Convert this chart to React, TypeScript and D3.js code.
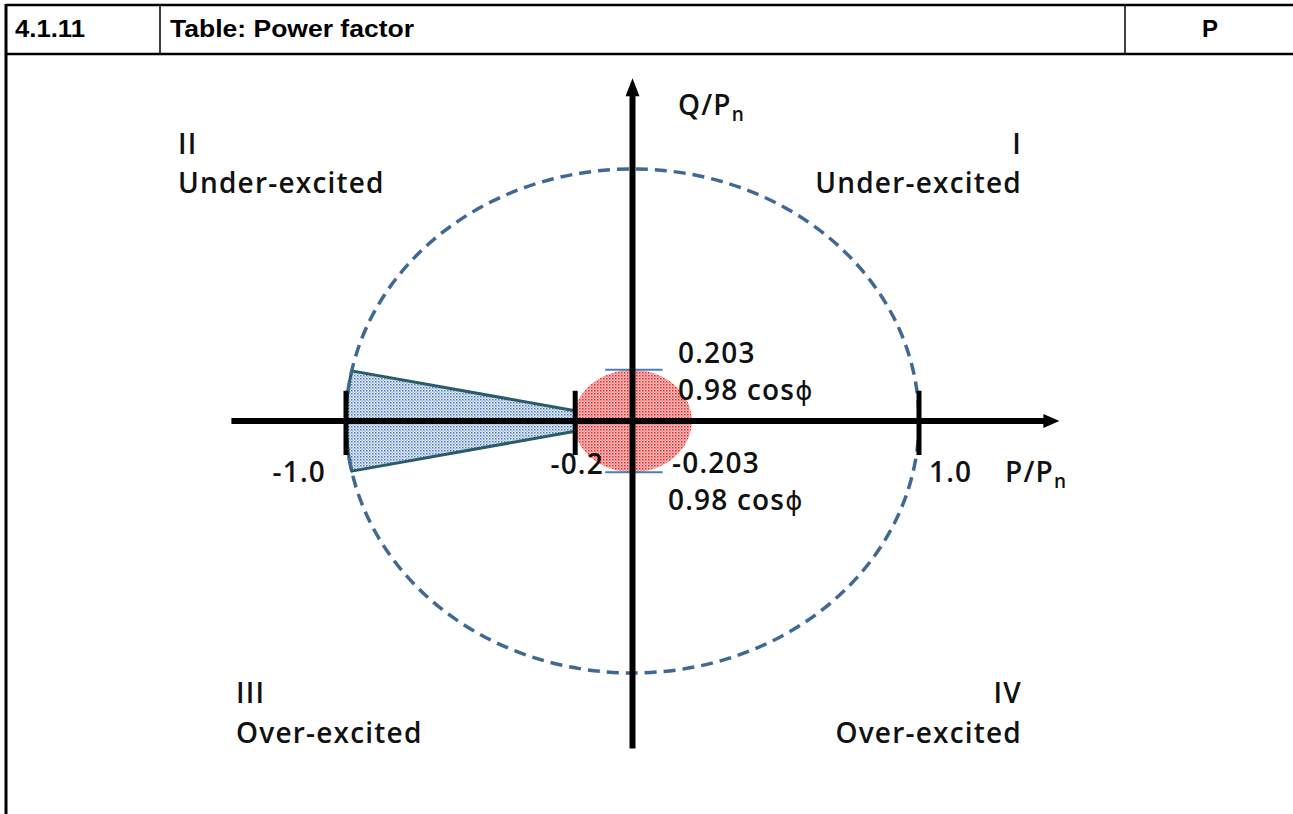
import React from "react";
import * as d3 from "d3";

// ---- data ----
const headerCells = ["4.1.11", "Table: Power factor", "P"];
const axisLabels = { x: "P/P", y: "Q/P", sub: "n" };
const xTickValues = [-1.0, -0.2, 1.0];
const xTickLabels = ["-1.0", "-0.2", "1.0"];
const qLimit = 0.203; // reactive power limit (tan(acos 0.98))
const powerFactor = 0.98;
const pMin = 0.2; // wedge tip at P = -0.2
const qLimitLabels = [
  ["0.203", "0.98 cos"],
  ["-0.203", "0.98 cos"],
];
const phiSymbol = "ϕ";
const quadrants = [
  { num: "I", text: "Under-excited", side: "right", pos: "top" },
  { num: "II", text: "Under-excited", side: "left", pos: "top" },
  { num: "III", text: "Over-excited", side: "left", pos: "bottom" },
  { num: "IV", text: "Over-excited", side: "right", pos: "bottom" },
];

const W = 1293;
const H = 814;

export default function App() {
  const x = d3.scaleLinear().domain([-1, 1]).range([346, 919]);
  const y = d3.scaleLinear().domain([-1, 1]).range([673, 169]);
  const cx = x(0);
  const cy = y(0);
  const rx = x(1) - x(0);
  const ry = y(-1) - y(0);

  // wedge: cone of cos phi = 0.98 from P=-0.2 to the unit ellipse
  const phi = Math.acos(powerFactor);
  const tanPhi = Math.tan(phi);
  const arcPts: [number, number][] = d3
    .range(0, 21)
    .map((i) => Math.PI - phi + (2 * phi * i) / 20)
    .map((a) => [Math.cos(a), Math.sin(a)]);
  const wedgePts: [number, number][] = [
    [-pMin, pMin * tanPhi],
    ...arcPts,
    [-pMin, -pMin * tanPhi],
  ];
  const line = d3
    .line<[number, number]>()
    .x((d) => x(d[0]))
    .y((d) => y(d[1]));
  const wedgePath = line(wedgePts) + "Z";

  const font = "'Open Sans', 'DejaVu Sans', sans-serif";
  const fs = 28;
  const ls = 1.2;
  const tickHalf = 0.12;

  const axisX0 = x(-1.4);
  const axisX1 = x(1.49);
  const axisYTop = y(1.36);
  const axisYBot = y(-1.3);
  const hdrFont = "'Liberation Sans', Arial, sans-serif";

  const Phi = () => (
    <tspan fontFamily="'DejaVu Sans', sans-serif" fontWeight={400} fontSize={26}>
      {phiSymbol}
    </tspan>
  );

  return (
    <svg width={W} height={H} style={{ position: "absolute", left: 0, top: 0 }}>
      <defs>
        <pattern id="bluedots" width="3" height="3" patternUnits="userSpaceOnUse">
          <rect width="3" height="3" fill="#f4f7fc" />
          <rect x="0" y="0" width="1.5" height="1.5" fill="#3f73c0" />
          <rect x="1.5" y="1.5" width="1.3" height="1.3" fill="#7b9fd8" />
        </pattern>
        <pattern id="reddots" width="3" height="3" patternUnits="userSpaceOnUse">
          <rect width="3" height="3" fill="#fbd0d0" />
          <rect x="0" y="0" width="1.5" height="1.5" fill="#f01818" />
          <rect x="1.5" y="1.5" width="1.2" height="1.2" fill="#f45050" />
        </pattern>
      </defs>
      <rect width={W} height={H} fill="#fff" />

      {/* header table */}
      <g>
        <line x1={6} x2={W} y1={5} y2={5} stroke="#000" strokeWidth={2.5} />
        <line x1={6} x2={W} y1={54} y2={54} stroke="#000" strokeWidth={2.5} />
        <line x1={6} x2={6} y1={4} y2={H} stroke="#000" strokeWidth={3} />
        <line x1={160} x2={160} y1={5} y2={54} stroke="#000" strokeWidth={1.5} />
        <line x1={1125} x2={1125} y1={5} y2={54} stroke="#000" strokeWidth={1.5} />
        <g fontFamily={hdrFont} fontWeight="bold" fontSize={24}>
          <text x={15} y={37} textLength={70} lengthAdjust="spacingAndGlyphs">{headerCells[0]}</text>
          <text x={170} y={37} textLength={244} lengthAdjust="spacingAndGlyphs">{headerCells[1]}</text>
          <text x={1210} y={37} textAnchor="middle">{headerCells[2]}</text>
        </g>
      </g>

      {/* red circle (Q limit region) */}
      <ellipse cx={cx} cy={cy} rx={x(0.2) - cx + 2} ry={y(0) - y(qLimit)} fill="url(#reddots)" />

      {/* blue wedge */}
      <path d={wedgePath} fill="url(#bluedots)" stroke="#2b5c66" strokeWidth={3} strokeLinejoin="round" />

      {/* dashed unit ellipse */}
      <ellipse cx={cx} cy={cy} rx={rx} ry={ry} fill="none" stroke="#3f6893" strokeWidth={3.5} strokeDasharray="12 7" />

      {/* Q limit lines */}
      {[qLimit, -qLimit].map((q) => (
        <line key={q} x1={x(-0.095)} x2={x(0.105)} y1={y(q)} y2={y(q)} stroke="#4a7ebb" strokeWidth={2} />
      ))}

      {/* axes */}
      <line x1={axisX0} x2={axisX1 - 10} y1={cy} y2={cy} stroke="#000" strokeWidth={6} />
      <path d={`M${axisX1},${cy} L${axisX1 - 16},${cy - 7} L${axisX1 - 16},${cy + 7} Z`} fill="#000" />
      <line x1={cx} x2={cx} y1={axisYTop + 10} y2={axisYBot} stroke="#000" strokeWidth={6} />
      <path d={`M${cx},${axisYTop} L${cx - 7},${axisYTop + 18} L${cx + 7},${axisYTop + 18} Z`} fill="#000" />

      {/* ticks */}
      {xTickValues.map((v) => (
        <line key={v} x1={x(v)} x2={x(v)} y1={y(tickHalf)} y2={y(-tickHalf - 0.015)} stroke="#000" strokeWidth={5} />
      ))}

      {/* labels */}
      <g fontFamily={font} fontSize={fs} fontWeight={600} fill="#111" letterSpacing={ls}>
        <text x={x(xTickValues[0]) - 20} y={482} textAnchor="end">{xTickLabels[0]}</text>
        <text x={x(xTickValues[1]) + 2} y={474} textAnchor="middle">{xTickLabels[1]}</text>
        <text x={x(xTickValues[2]) + 10} y={482}>{xTickLabels[2]}</text>

        <text x={1005} y={482}>
          {axisLabels.x}
          <tspan fontSize={19} dy={6}>{axisLabels.sub}</tspan>
        </text>
        <text x={678} y={115}>
          {axisLabels.y}
          <tspan fontSize={19} dy={6}>{axisLabels.sub}</tspan>
        </text>

        <text x={678} y={363}>{qLimitLabels[0][0]}</text>
        <text x={678} y={400}>{qLimitLabels[0][1]}<Phi /></text>
        <text x={672} y={473}>{qLimitLabels[1][0]}</text>
        <text x={668} y={510}>{qLimitLabels[1][1]}<Phi /></text>

        {quadrants.map((q) => {
          const isRight = q.side === "right";
          const tx = isRight ? 1022 : q.pos === "top" ? 178 : 236;
          const y1 = q.pos === "top" ? 154 : 703;
          const y2 = q.pos === "top" ? 193 : 743;
          return (
            <g key={q.num} textAnchor={isRight ? "end" : "start"}>
              <text x={tx} y={y1}>{q.num}</text>
              <text x={tx} y={y2}>{q.text}</text>
            </g>
          );
        })}
      </g>
    </svg>
  );
}
